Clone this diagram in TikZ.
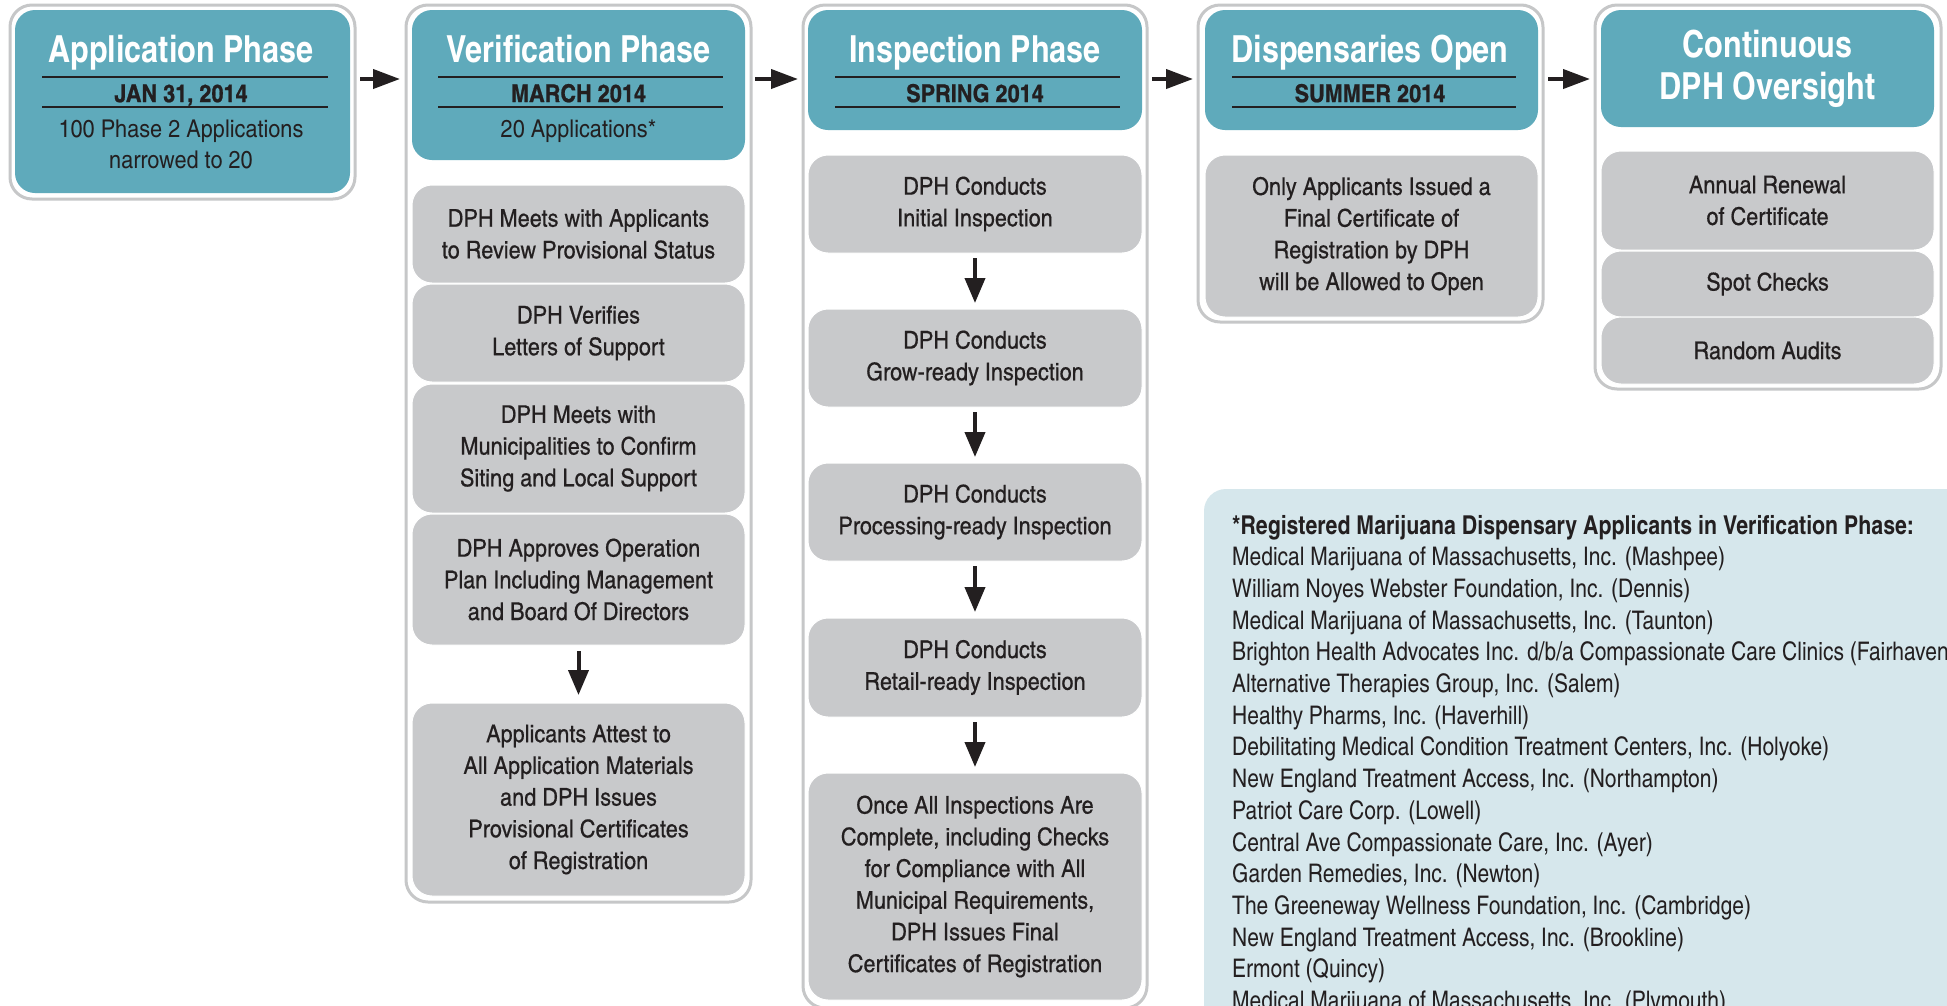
\documentclass[tikz,border=0pt]{standalone}
\usepackage{fontspec}
\setmainfont{texgyreheroscn}[Extension=.otf, UprightFont=*-regular, BoldFont=*-bold, ItalicFont=*-italic, BoldItalicFont=*-bolditalic]
\newfontfamily\gfam{texgyreheroscn}[Extension=.otf, UprightFont=*-regular, BoldFont=*-bold, FakeStretch=1.08, FakeBold=0.5]
\newfontfamily\wfam{texgyreheroscn}[Extension=.otf, UprightFont=*-regular, BoldFont=*-bold, FakeStretch=1.08, BoldFeatures={FakeBold=0.8}]
\usetikzlibrary{arrows.meta}
\definecolor{teal1}{HTML}{5FAABB}
\definecolor{grayb}{HTML}{C8C9CB}
\definecolor{framec}{HTML}{C6C7C8}
\definecolor{noteb}{HTML}{D6E7EC}
\definecolor{ink}{HTML}{231F20}
\newcommand{\titlefont}{\fontsize{37.3}{42}\selectfont\bfseries}
\newcommand{\datefont}{\wfam\fontsize{24.5}{28}\selectfont\bfseries}
\newcommand{\subfont}{\wfam\fontsize{24.5}{30}\selectfont}
\newcommand{\gfont}{\gfam\fontsize{24.5}{31.7}\selectfont}
\newcommand{\listfont}{\fontsize{25.6}{31.7}\selectfont}
\newcommand{\listbold}{\fontsize{26}{31.7}\selectfont\bfseries}
\tikzset{
  frame/.style={draw=framec, line width=3pt, fill=white, rounded corners=22pt, outer sep=0pt, inner sep=0pt, anchor=north west},
  head/.style={fill=teal1, rounded corners=20pt, inner sep=0pt, outer sep=0pt, anchor=north west},
  gbox/.style={fill=grayb, draw=white, line width=1pt, rounded corners=20pt, inner sep=0pt, outer sep=0pt, anchor=north west, align=center, font=\gfont, text=ink},
  ttl/.style={text=white, font=\titlefont, anchor=base, inner sep=0pt},
  ttltwo/.style={text=white, font=\titlefont, align=center, inner sep=0pt},
  datetxt/.style={text=ink, font=\datefont, anchor=base, inner sep=0pt},
  subtxt/.style={text=ink, font=\subfont, anchor=base, inner sep=0pt},
  rulel/.style={line width=1.5pt, draw=ink},
  harrow/.style={line width=4pt, draw=ink, -{Triangle[length=27pt,width=19pt]}},
  varrow/.style={line width=4pt, draw=ink, -{Triangle[length=25pt,width=20pt]}},
  notebox/.style={fill=noteb, rounded corners=22pt, anchor=north west, inner sep=0pt, outer sep=0pt},
  listtxt/.style={text=ink, font=\listfont, anchor=base west, inner sep=0pt},
}
\begin{document}
\begin{tikzpicture}[x=1pt,y=-1pt]
\clip (0,0) rectangle (1947,1005);
\fill[white] (0,0) rectangle (1947,1005);

% outer frames
\node[frame, minimum width=345, minimum height=194] (appF) at (10,5) {};
\node[frame, minimum width=345, minimum height=897] (verF) at (406,5) {};
\node[frame, minimum width=344, minimum height=1003] (insF) at (803,5) {};
\node[frame, minimum width=345, minimum height=317] (disF) at (1198,5) {};
\node[frame, minimum width=346, minimum height=384] (conF) at (1595,5) {};

% headers
\node[head, minimum width=335, minimum height=183] (appH) at (15,10) {};
\node[head, minimum width=333, minimum height=150] (verH) at (412,10) {};
\node[head, minimum width=334, minimum height=120] (insH) at (808,10) {};
\node[head, minimum width=333, minimum height=120] (disH) at (1205,10) {};
\node[head, minimum width=333, minimum height=117] (conH) at (1601,10) {};

% header texts
\node[ttl] (appT) at (181,62) {Application Phase};
\draw[rulel] (42,77) -- (328,77);
\node[datetxt] (appD) at (181,102) {JAN 31, 2014};
\draw[rulel] (42,107) -- (328,107);
\node[subtxt] (appS1) at (181,137) {100 Phase 2 Applications};
\node[subtxt] (appS2) at (181,168) {narrowed to 20};

\node[ttl] (verT) at (578.5,62) {Verification Phase};
\draw[rulel] (438,77) -- (723,77);
\node[datetxt] (verD) at (578.5,102) {MARCH 2014};
\draw[rulel] (438,107) -- (723,107);
\node[subtxt] (verS) at (578.5,137) {20 Applications*};

\node[ttl] (insT) at (975,62) {Inspection Phase};
\draw[rulel] (835,77) -- (1120,77);
\node[datetxt] (insD) at (975,102) {SPRING 2014};
\draw[rulel] (835,107) -- (1120,107);

\node[ttl] (disT) at (1370,62) {Dispensaries Open};
\draw[rulel] (1232,77) -- (1516,77);
\node[datetxt] (disD) at (1370,102) {SUMMER 2014};
\draw[rulel] (1232,107) -- (1516,107);

\node[ttltwo] (conT) at (1767.5,69) {Continuous\\DPH Oversight};

% verification boxes
\node[gbox, minimum width=333, minimum height=98] (v1) at (412,185) {DPH Meets with Applicants\\to Review Provisional Status};
\node[gbox, minimum width=333, minimum height=98] (v2) at (412,284) {DPH Verifies\\Letters of Support};
\node[gbox, minimum width=333, minimum height=129] (v3) at (412,384) {DPH Meets with\\Municipalities to Confirm\\Siting and Local Support};
\node[gbox, minimum width=333, minimum height=131] (v4) at (412,514) {DPH Approves Operation\\Plan Including Management\\and Board Of Directors};
\node[gbox, minimum width=333, minimum height=193] (v5) at (412,703) {Applicants Attest to\\All Application Materials\\and DPH Issues\\Provisional Certificates\\of Registration};

% inspection boxes
\node[gbox, minimum width=334, minimum height=98] (i1) at (808,155) {DPH Conducts\\Initial Inspection};
\node[gbox, minimum width=334, minimum height=98] (i2) at (808,309) {DPH Conducts\\Grow-ready Inspection};
\node[gbox, minimum width=334, minimum height=98] (i3) at (808,463) {DPH Conducts\\Processing-ready Inspection};
\node[gbox, minimum width=334, minimum height=99] (i4) at (808,618) {DPH Conducts\\Retail-ready Inspection};
\node[gbox, minimum width=334, minimum height=227] (i5) at (808,773) {Once All Inspections Are\\Complete, including Checks\\for Compliance with All\\Municipal Requirements,\\DPH Issues Final\\Certificates of Registration};

% dispensaries box
\node[gbox, minimum width=333, minimum height=162] (d1) at (1205,155) {Only Applicants Issued a\\Final Certificate of\\Registration by DPH\\will be Allowed to Open};

% continuous boxes
\node[gbox, minimum width=333, minimum height=99] (c1) at (1601,151) {Annual Renewal\\of Certificate};
\node[gbox, minimum width=333, minimum height=66] (c2) at (1601,251) {Spot Checks};
\node[gbox, minimum width=333, minimum height=67] (c3) at (1601,317) {Random Audits};

% horizontal arrows
\draw[harrow, shorten <=5pt, shorten >=6pt] ([yshift=-74pt]appF.north east) -- ([yshift=-74pt]verF.north west);
\draw[harrow, shorten <=4pt, shorten >=5pt] ([yshift=-74pt]verF.north east) -- ([yshift=-74pt]insF.north west);
\draw[harrow, shorten <=5pt, shorten >=5pt] ([yshift=-74pt]insF.north east) -- ([yshift=-74pt]disF.north west);
\draw[harrow, shorten <=5pt, shorten >=5pt] ([yshift=-74pt]disF.north east) -- ([yshift=-74pt]conF.north west);

% vertical arrows
\draw[varrow, shorten <=6pt, shorten >=8pt] (v4) -- (v5);
\draw[varrow, shorten <=5pt, shorten >=6pt] (i1) -- (i2);
\draw[varrow, shorten <=5pt, shorten >=6pt] (i2) -- (i3);
\draw[varrow, shorten <=5pt, shorten >=6pt] (i3) -- (i4);
\draw[varrow, shorten <=5pt, shorten >=6pt] (i4) -- (i5);

% note box
\node[notebox, minimum width=800, minimum height=600] (note) at (1204,489) {};
\node[listtxt, font=\listbold] (lt) at (1232,534) {*Registered Marijuana Dispensary Applicants in Verification Phase:};
\foreach \t [count=\i from 0] in {{Medical Marijuana of Massachusetts, Inc. (Mashpee)},
  {William Noyes Webster Foundation, Inc. (Dennis)},
  {Medical Marijuana of Massachusetts, Inc. (Taunton)},
  {Brighton Health Advocates Inc. d/b/a Compassionate Care Clinics (Fairhaven)},
  {Alternative Therapies Group, Inc. (Salem)},
  {Healthy Pharms, Inc. (Haverhill)},
  {Debilitating Medical Condition Treatment Centers, Inc. (Holyoke)},
  {New England Treatment Access, Inc. (Northampton)},
  {Patriot Care Corp. (Lowell)},
  {Central Ave Compassionate Care, Inc. (Ayer)},
  {Garden Remedies, Inc. (Newton)},
  {The Greeneway Wellness Foundation, Inc. (Cambridge)},
  {New England Treatment Access, Inc. (Brookline)},
  {Ermont (Quincy)},
  {Medical Marijuana of Massachusetts, Inc. (Plymouth)}}
  \node[listtxt] (l\i) at (1232,{565.7+31.7*\i}) {\t};
\end{tikzpicture}
\end{document}
